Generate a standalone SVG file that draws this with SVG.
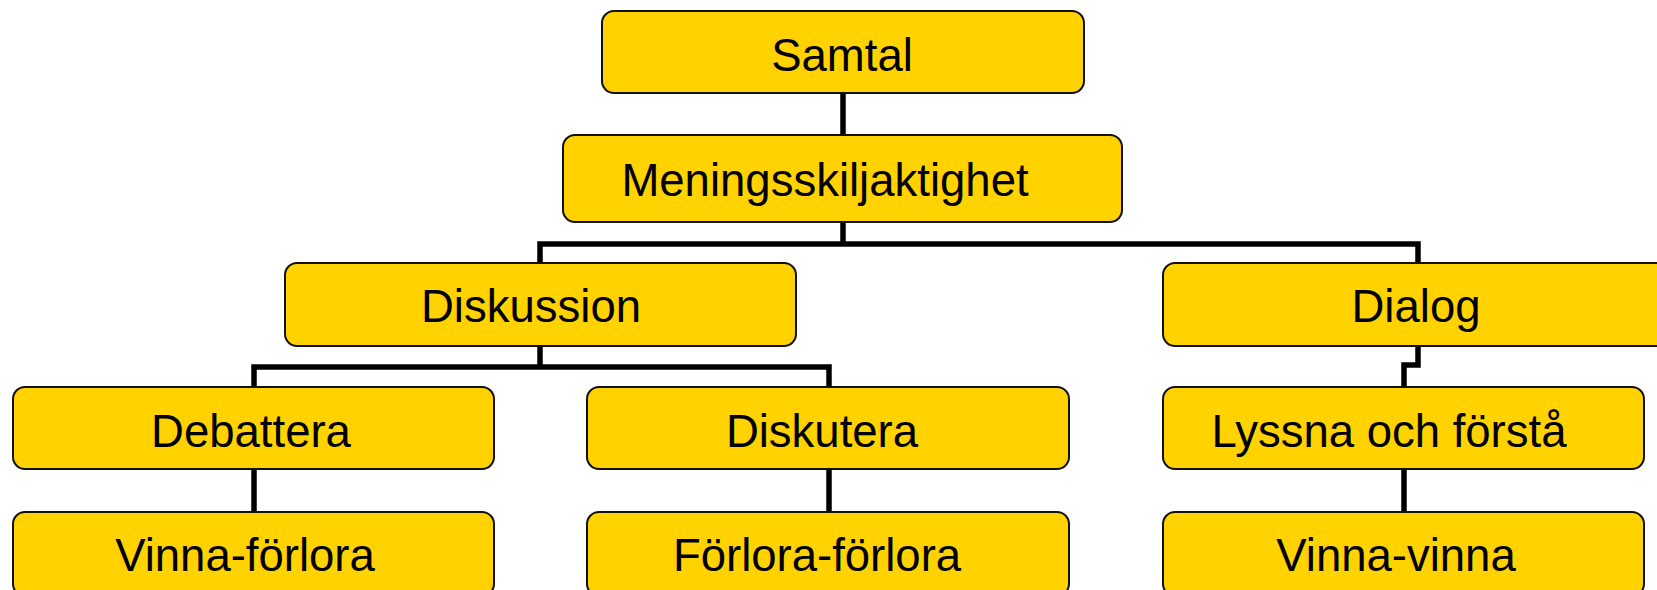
<svg xmlns="http://www.w3.org/2000/svg" width="1657" height="590" viewBox="0 0 1657 590">
  <style>
    .box { fill: #FFD200; stroke: #111; stroke-width: 2; }
    .lbl { font-family: "Liberation Sans", Arial, sans-serif; font-size: 45.5px; fill: #000; text-anchor: middle; }
    .wire { fill: none; stroke: #000; stroke-width: 5.5; stroke-linejoin: miter; }
  </style>
  <rect width="1657" height="590" fill="#fff"/>

  <!-- connectors -->
  <g id="connectors" class="wire">
    <path d="M843 93 V135"/>
    <path d="M843 222 V244"/>
    <path d="M540 263 V244 H1418 V263"/>
    <path d="M540 346 V367"/>
    <path d="M254 387 V367 H829 V387"/>
    <path d="M1418 346 V365 H1404 V387"/>
    <path d="M254 469 V512"/>
    <path d="M829 469 V512"/>
    <path d="M1404 469 V512"/>
  </g>

  <g id="samtal">
    <rect class="box" x="602" y="11" width="482" height="82" rx="12"/>
    <text class="lbl" x="842" y="71">Samtal</text>
  </g>
  <g id="meningsskiljaktighet">
    <rect class="box" x="563" y="135" width="559" height="87" rx="12"/>
    <text class="lbl" x="825" y="196">Meningsskiljaktighet</text>
  </g>
  <g id="diskussion">
    <rect class="box" x="285" y="263" width="511" height="83" rx="12"/>
    <text class="lbl" x="531" y="322">Diskussion</text>
  </g>
  <g id="dialog">
    <rect class="box" x="1163" y="263" width="520" height="83" rx="12"/>
    <text class="lbl" x="1416" y="322">Dialog</text>
  </g>
  <g id="debattera">
    <rect class="box" x="13" y="387" width="481" height="82" rx="12"/>
    <text class="lbl" x="251" y="447">Debattera</text>
  </g>
  <g id="diskutera">
    <rect class="box" x="587" y="387" width="482" height="82" rx="12"/>
    <text class="lbl" x="822" y="447">Diskutera</text>
  </g>
  <g id="lyssna">
    <rect class="box" x="1163" y="387" width="481" height="82" rx="12"/>
    <text class="lbl" x="1389" y="447">Lyssna och förstå</text>
  </g>
  <g id="vinna-forlora">
    <rect class="box" x="13" y="512" width="481" height="84" rx="12"/>
    <text class="lbl" x="245" y="571">Vinna-förlora</text>
  </g>
  <g id="forlora-forlora">
    <rect class="box" x="587" y="512" width="482" height="84" rx="12"/>
    <text class="lbl" x="817" y="571">Förlora-förlora</text>
  </g>
  <g id="vinna-vinna">
    <rect class="box" x="1163" y="512" width="481" height="84" rx="12"/>
    <text class="lbl" x="1396" y="571">Vinna-vinna</text>
  </g>
</svg>
